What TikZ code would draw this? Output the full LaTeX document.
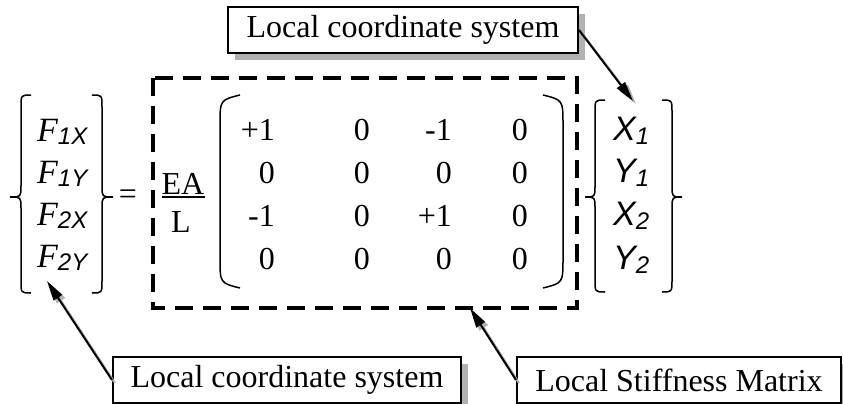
\documentclass[tikz,border=0pt]{standalone}
\usepackage{fontspec}
\setmainfont{Liberation Serif}
\newfontfamily\arialfont{Liberation Sans}
\usetikzlibrary{arrows.meta,shadows}

\tikzset{
  labelbox/.style={rectangle, draw, line width=2pt, fill=white, inner sep=0pt, minimum height=46pt,
    drop shadow={shadow xshift=7pt, shadow yshift=-7pt, fill=black!30, opacity=1}},
  entry/.style={inner sep=0pt, anchor=base east},
  vecentry/.style={inner sep=0pt, anchor=base west},
  bracket/.style={line width=1.5pt},
  pointer/.style={line width=2pt, -{Triangle[length=20pt,width=10pt]}},
  pointershade/.style={pointer, draw=black!30}
}
\newcommand{\forcesub}[2]{{\fontsize{34}{40}\selectfont\itshape #1}\raisebox{-3pt}{\arialfont\itshape\fontsize{24}{28}\selectfont #2}}
\newcommand{\dispsub}[2]{{\arialfont\itshape\fontsize{34}{40}\selectfont #1}\raisebox{-4pt}{\arialfont\itshape\fontsize{24}{28}\selectfont #2}}

\begin{document}
\begin{tikzpicture}[x=1pt, y=-1pt, font=\fontsize{32}{38}\selectfont]
    \useasboundingbox (0,0) rectangle (843,404);

    \node [vecentry] (f1x) at (37,141) {\forcesub{F}{1X}};
    \node [vecentry] (f1y) at (37,183) {\forcesub{F}{1Y}};
    \node [vecentry] (f2x) at (37,225) {\forcesub{F}{2X}};
    \node [vecentry] (f2y) at (37,267) {\forcesub{F}{2Y}};
    \draw [bracket] (31,95) .. controls (21,95) .. (21,107) -- (21,186) .. controls (21,197) .. (10,197)
        .. controls (21,197) .. (21,208) -- (21,281) .. controls (21,293) .. (31,293);
    \draw [bracket] (92,95) .. controls (102,95) .. (102,107) -- (102,186) .. controls (102,197) .. (113,197)
        .. controls (102,197) .. (102,208) -- (102,281) .. controls (102,293) .. (92,293);

    \node [inner sep=0pt] (eq) at (128,197) {=};

    \draw [line width=4pt, dash pattern=on 18pt off 10pt] (153,78) rectangle (577,308);

    \node [inner sep=0pt, anchor=base] (ea) at (183,194) {EA};
    \node [inner sep=0pt, anchor=base] (len) at (181,232) {L};
    \draw [line width=1.5pt] (162,197) -- (205,197);

    \draw [bracket] (240,95) .. controls (220,100) .. (220,125) -- (220,258) .. controls (220,283) .. (240,288);
    \draw [bracket] (543,95) .. controls (563,100) .. (563,125) -- (563,258) .. controls (563,283) .. (543,288);

    \node [entry] (k11) at (275,140) {+1};
    \node [entry] (k12) at (370,140) {0};
    \node [entry] (k13) at (452,140) {-1};
    \node [entry] (k14) at (528,140) {0};
    \node [entry] (k21) at (275,183) {0};
    \node [entry] (k22) at (370,183) {0};
    \node [entry] (k23) at (452,183) {0};
    \node [entry] (k24) at (528,183) {0};
    \node [entry] (k31) at (275,226) {-1};
    \node [entry] (k32) at (370,226) {0};
    \node [entry] (k33) at (452,226) {+1};
    \node [entry] (k34) at (528,226) {0};
    \node [entry] (k41) at (275,269) {0};
    \node [entry] (k42) at (370,269) {0};
    \node [entry] (k43) at (452,269) {0};
    \node [entry] (k44) at (528,269) {0};

    \draw [bracket] (605,100) .. controls (595,100) .. (595,112) -- (595,186) .. controls (595,197) .. (585,197)
        .. controls (595,197) .. (595,208) -- (595,280) .. controls (595,292) .. (605,292);
    \draw [bracket] (662,100) .. controls (672,100) .. (672,112) -- (672,186) .. controls (672,197) .. (682,197)
        .. controls (672,197) .. (672,208) -- (672,280) .. controls (672,292) .. (662,292);
    \node [vecentry] (x1) at (613,140) {\dispsub{X}{1}};
    \node [vecentry] (y1) at (613,182) {\dispsub{Y}{1}};
    \node [vecentry] (x2) at (613,225) {\dispsub{X}{2}};
    \node [vecentry] (y2) at (613,269) {\dispsub{Y}{2}};

    \coordinate (ftip) at (47,281);
    \coordinate (ktip) at (470,308);
    \coordinate (xtip) at (633,101);

    \node [labelbox, minimum width=350pt] (lcstop) at (403,30) {Local coordinate system};
    \node [labelbox, minimum width=348pt] (lcsbot) at (287,380) {Local coordinate system};
    \node [labelbox, minimum width=324pt] (lsm) at (679,380) {Local Stiffness Matrix};

    \draw [pointershade] ([xshift=3pt,yshift=-3pt]lcstop.east) -- ([xshift=3pt,yshift=-3pt]xtip);
    \draw [pointershade] ([xshift=3pt,yshift=-3pt]lcsbot.west) -- ([xshift=3pt,yshift=-3pt]ftip);
    \draw [pointershade] ([xshift=3pt,yshift=-3pt]lsm.west) -- ([xshift=3pt,yshift=-3pt]ktip);
    \draw [pointer] (lcstop.east) -- (xtip);
    \draw [pointer] (lcsbot.west) -- (ftip);
    \draw [pointer] (lsm.west) -- (ktip);
\end{tikzpicture}
\end{document}
